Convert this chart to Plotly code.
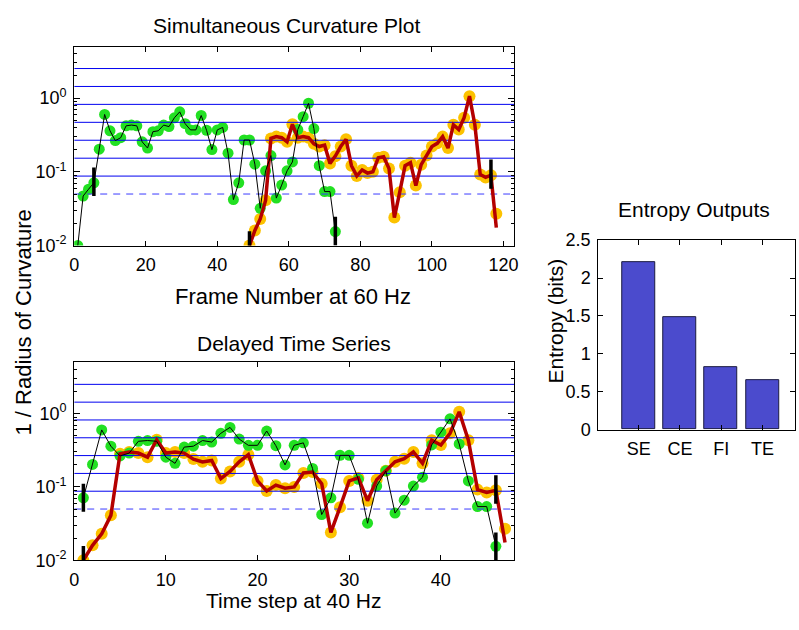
import plotly.graph_objects as go

# ---------------- data ----------------
green_curv = [0.010, 0.047, 0.058,
              0.071, 0.203, 0.60, 0.36, 0.265, 0.29, 0.42, 0.43, 0.42, 0.255,
              0.21, 0.35, 0.36, 0.43, 0.41, 0.54, 0.65, 0.45, 0.37, 0.37,
              0.58, 0.366, 0.20, 0.37, 0.40, 0.179, 0.042, 0.071, 0.27, 0.27,
              0.127, 0.032, 0.103, 0.166, 0.044, 0.066, 0.103, 0.136, 0.374,
              0.56, 0.85, 0.386, 0.121, 0.054, 0.054, 0.0155]
orange_curv = [0.010, 0.016, 0.023, 0.041, 0.284, 0.30, 0.29, 0.255, 0.44, 0.29,
               0.30, 0.29, 0.24, 0.22, 0.23, 0.130, 0.163, 0.22, 0.276, 0.121,
               0.088, 0.106, 0.096, 0.100, 0.155, 0.160, 0.111, 0.024, 0.053, 0.121,
               0.133, 0.065, 0.125, 0.166, 0.22, 0.243, 0.30, 0.21, 0.435, 0.374,
               0.54, 1.06, 0.435, 0.092, 0.084, 0.090, 0.027]
red_line_last = 0.0175          # last vertex of the red line (below last dot)

green_start_frame = 1
orange_start_frame = 49
frame_step = 1.5                # 60 Hz frames per 40 Hz step
green_delay = 3                 # samples dropped from green in delayed plot

ref_levels = [0.0875, 0.153, 0.268, 0.469, 0.821, 1.436, 2.513]
dash_level = 0.05

top_bar_x = [5.5, 49, 73, 116.5]
top_bar_lo = [0.047, 0.0065, 0.0100, 0.059]
top_bar_hi = [0.114, 0.0156, 0.0245, 0.147]
bot_bar_x = [1, 1, 46, 46]
bot_bar_lo = [0.046, 0.0065, 0.059, 0.0100]
bot_bar_hi = [0.111, 0.0156, 0.144, 0.0240]

entropy_labels = ["SE", "CE", "FI", "TE"]
entropy_vals = [2.21, 1.49, 0.83, 0.65]

# ---------------- derived x ----------------
green_top_x = [green_start_frame + frame_step * i for i in range(len(green_curv))]
orange_top_x = [orange_start_frame + frame_step * i for i in range(len(orange_curv))]
green_bot_y = green_curv[green_delay:]
green_bot_x = list(range(1, len(green_bot_y) + 1))
orange_bot_x = list(range(1, len(orange_curv) + 1))
red_line_y = orange_curv[:-1] + [red_line_last]

GREEN = "#22e022"
ORANGE = "#fcc200"
RED = "#b40000"
BLUE = "#0000f0"
FONT = "Liberation Sans, Arial, sans-serif"

fig = go.Figure()


def add_panel(xg, yg, xo, yo, yred, bx, blo, bhi, xa, ya, xmax):
    fig.add_trace(go.Scatter(x=xo, y=yo, mode="markers", xaxis=xa, yaxis=ya,
                             marker=dict(color=ORANGE, size=12), hoverinfo="skip"))
    fig.add_trace(go.Scatter(x=xg, y=yg, mode="markers", xaxis=xa, yaxis=ya,
                             marker=dict(color=GREEN, size=11), hoverinfo="skip"))
    for lv in ref_levels:
        fig.add_trace(go.Scatter(x=[0, xmax], y=[lv, lv], mode="lines", xaxis=xa, yaxis=ya,
                                 line=dict(color=BLUE, width=1), hoverinfo="skip"))
    fig.add_trace(go.Scatter(x=[0, xmax], y=[dash_level, dash_level], mode="lines",
                             xaxis=xa, yaxis=ya,
                             line=dict(color="#3a3aff", width=1, dash="7px,6px"),
                             hoverinfo="skip"))
    fig.add_trace(go.Scatter(x=xo, y=yred, mode="lines", xaxis=xa, yaxis=ya,
                             line=dict(color=RED, width=3.5), hoverinfo="skip"))
    fig.add_trace(go.Scatter(x=xg, y=yg, mode="lines", xaxis=xa, yaxis=ya,
                             line=dict(color="black", width=1), hoverinfo="skip"))
    for x, lo, hi in zip(bx, blo, bhi):
        fig.add_trace(go.Scatter(x=[x, x], y=[lo, hi], mode="lines", xaxis=xa, yaxis=ya,
                                 line=dict(color="black", width=3.5), hoverinfo="skip"))


TOP_XMAX = 123
BOT_XMAX = 48
add_panel(green_top_x, green_curv, orange_top_x, orange_curv, red_line_y,
          top_bar_x, top_bar_lo, top_bar_hi, "x", "y", TOP_XMAX)
add_panel(green_bot_x, green_bot_y, orange_bot_x, orange_curv, red_line_y,
          bot_bar_x, bot_bar_lo, bot_bar_hi, "x2", "y2", BOT_XMAX)

fig.add_trace(go.Bar(x=[1, 2, 3, 4], y=entropy_vals, width=0.8, xaxis="x3", yaxis="y3",
                     marker=dict(color="#4b4bcd", line=dict(color="#1a1a40", width=1)),
                     hoverinfo="skip"))

W, H = 799, 630
L = 70 / W
R = 515 / W


def ydom(top_px, bot_px):
    return [1 - bot_px / H, 1 - top_px / H]


TICKFONT = dict(family=FONT, size=18, color="black")
minor_log = [v * 10 ** e for e in (-2, -1) for v in range(2, 10)] + [2, 3, 4, 5]
log_axis = dict(type="log", range=[-2, 0.69897], tickmode="array",
                tickvals=[0.01, 0.1, 1],
                ticktext=["10<sup>-2</sup>", "10<sup>-1</sup>", "10<sup>0</sup>"],
                ticks="inside", ticklen=6, tickcolor="black",
                minor=dict(ticks="inside", ticklen=3, tickcolor="black",
                           tickmode="array", tickvals=minor_log, showgrid=False),
                showline=True, linecolor="black", linewidth=1, mirror="ticks",
                showgrid=False, zeroline=False, ticklabelstandoff=3,
                tickfont=TICKFONT)

x_common = dict(ticks="inside", ticklen=5, tickcolor="black", showline=True,
                linecolor="black", linewidth=1, mirror="ticks", showgrid=False,
                zeroline=False, ticklabelstandoff=3, tickfont=TICKFONT)

fig.update_layout(
    width=W, height=H, margin=dict(l=0, r=0, t=0, b=0),
    paper_bgcolor="white", plot_bgcolor="white", showlegend=False,
    font=dict(family=FONT, color="black"),
    xaxis=dict(domain=[L, R], range=[0, TOP_XMAX], tickvals=[0, 20, 40, 60, 80, 100, 120],
               anchor="y", **x_common),
    yaxis=dict(domain=ydom(37.7, 243.3), anchor="x", **log_axis),
    xaxis2=dict(domain=[L, R], range=[0, BOT_XMAX], tickvals=[0, 10, 20, 30, 40],
                anchor="y2", **x_common),
    yaxis2=dict(domain=ydom(364, 568.3), anchor="x2", **log_axis),
    xaxis3=dict(domain=[600 / W, 1.0], range=[0.02, 4.79], tickmode="array",
                tickvals=[1, 2, 3, 4], ticktext=entropy_labels, anchor="y3", **x_common),
    yaxis3=dict(domain=ydom(237.7, 433.3), range=[0, 2.5], tickvals=[0, 0.5, 1, 1.5, 2, 2.5],
                ticktext=["0", "0.5", "1", "1.5", "2", "2.5"], anchor="x3",
                ticks="inside", ticklen=5, tickcolor="black", showline=True,
                linecolor="black", linewidth=1, mirror="ticks", showgrid=False,
                zeroline=False, ticklabelstandoff=3, tickfont=TICKFONT),
    bargap=0,
)


def ann(text, xpx, ypx, angle=0, size=21):
    fig.add_annotation(text=text, x=xpx / W, y=1 - ypx / H, xref="paper", yref="paper",
                       showarrow=False, textangle=angle, xanchor="center", yanchor="middle",
                       font=dict(family=FONT, size=size, color="black"))


ann("Simultaneous Curvature Plot", 285, 16)
ann("Frame Number at 60 Hz", 291, 296, size=22)
ann("Delayed Time Series", 292, 344)
ann("Time step at 40 Hz", 292, 610)
ann("1 / Radius of Curvature", 19, 323, angle=-90, size=22)
ann("Entropy Outputs", 697, 206)
ann("Entropy (bits)", 557, 321, angle=-90)

fig.write_html("out.html",
               post_script="document.body.style.margin='0';"
                           "document.documentElement.style.overflow='hidden';")
